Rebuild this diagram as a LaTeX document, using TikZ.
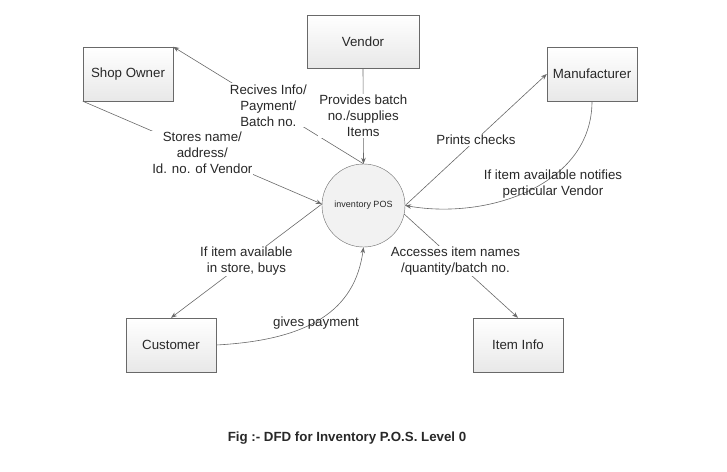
\documentclass[tikz,border=0pt]{standalone}
\usepackage{fontspec}
\setmainfont{Liberation Sans}
\usepackage{tikz}
\usetikzlibrary{positioning, arrows}
\usetikzlibrary{arrows.meta}
\definecolor{linegray}{RGB}{105,105,105}
\definecolor{textgray}{RGB}{40,40,40}

\begin{document}
\begin{tikzpicture}[>={Stealth[length=6pt, width=4.5pt]}, x=1pt, y=-1pt,
    entity/.style={rectangle, draw=linegray, top color=white, bottom color=gray!18, minimum width=90pt, minimum height=54pt, text=textgray, font=\fontsize{13.3}{16}\selectfont},
    process/.style={circle, draw=linegray, fill=gray!10, minimum size=83pt, inner sep=0pt, text=textgray, font=\fontsize{9}{11}\selectfont},
    flow/.style={->, draw=linegray, line width=0.6pt},
    lbl/.style={fill=white, inner sep=1pt, align=center, text=textgray, font=\fontsize{13.3}{16}\selectfont},
    freelbl/.style={align=center, text=textgray, font=\fontsize{13.3}{16}\selectfont}]

    \useasboundingbox (0,0) rectangle (727,471);

    % Define nodes
    \node[process] (pos) at (363.5,205.5) {inventory POS};
    \node[entity] (shop) at (128,74) {Shop Owner};
    \node[entity, minimum width=112pt, minimum height=53pt] (vendor) at (363,41.5) {Vendor};
    \node[entity] (man) at (592,74) {Manufacturer};
    \node[entity] (cust) at (171,345) {Customer};
    \node[entity] (item) at (518,345) {Item Info};

    % Draw edges with arrows
    \draw[flow] (pos.north) -- node[lbl, midway] {Recives Info/\\Payment/\\Batch no.} (shop.north east);
    \draw[flow] (vendor.south) -- node[lbl, midway] {Provides batch\\no./supplies\\Items} (pos.north);
    \draw[flow] (shop.south west) -- node[lbl, midway] {Stores name/\\address/\\Id. no. of Vendor} (pos.178);
    \draw[flow] (pos.east) -- node[lbl, midway] {Prints checks} (man.west);
    \draw[flow] (man.south) .. controls (592,185) and (488,220) .. (pos.east);
    \draw[flow] (pos.178) -- node[lbl, midway] {If item available\\in store, buys} (cust.north);
    \draw[flow] (cust.east) .. controls (310,340) and (355,310) .. (pos.south);
    \draw[flow] (pos.-12) -- node[lbl, pos=0.45] {Accesses item names\\/quantity/batch no.} (item.north);

    % Labels on the curved flows
    \node[freelbl] (notify) at (553,184) {If item available notifies\\perticular Vendor};
    \node[freelbl] (pay) at (316,323) {gives payment};

    \node[font=\bfseries\fontsize{13.3}{16}\selectfont, text=textgray] (caption) at (347,438) {Fig :- DFD for Inventory P.O.S. Level 0};

\end{tikzpicture}
\end{document}
